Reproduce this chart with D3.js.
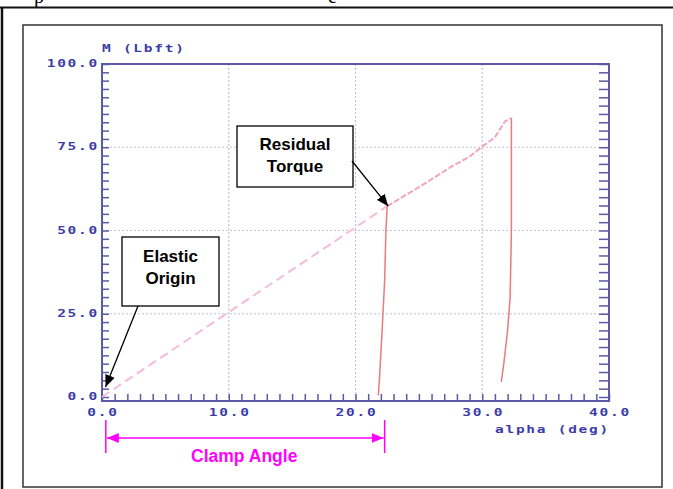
<!DOCTYPE html>
<html><head><meta charset="utf-8">
<script src="https://cdn.jsdelivr.net/npm/d3@7"></script>
<style>
html,body{margin:0;padding:0;background:#fff;}
svg{display:block;}
</style></head>
<body><div id="chart"></div>
<script>
// ---- data ----
const xTickValues = [0, 10, 20, 30, 40];
const yTickValues = [0, 25, 50, 75, 100];
const xTitle = "alpha (deg)";
const yTitle = "M (Lbft)";

const elasticAlpha = [0.0, 22.5];
const elasticM     = [0.0, 57.3];

const plasticAlpha = [22.5, 25.0, 27.5, 29.0, 30.0, 31.0, 31.8, 32.3];
const plasticM     = [57.3, 63.0, 69.0, 72.2, 75.2, 78.0, 82.8, 83.8];

const unload1Alpha = [22.5, 22.4, 22.3, 22.1, 21.9, 21.8];
const unload1M     = [57.3, 50.0, 35.0, 20.0, 6.0, 0.5];

const unload2Alpha = [32.3, 32.3, 32.2, 32.0, 31.7, 31.5];
const unload2M     = [83.8, 50.0, 30.0, 20.0, 10.0, 4.5];

const clampStart = 0.3, clampEnd = 22.3;
const residualPoint = [22.5, 57.3];
const originPoint = [0.2, 3.0];

// ---- drawing ----
const W = 673, H = 489;
const svg = d3.select("#chart").append("svg").attr("width", W).attr("height", H);
const defs = svg.append("defs");
function marker(id, color) {
  defs.append("marker").attr("id", id).attr("viewBox", "0 0 12 10")
    .attr("refX", 12).attr("refY", 5).attr("markerWidth", 12).attr("markerHeight", 10)
    .attr("markerUnits", "userSpaceOnUse").attr("orient", "auto-start-reverse")
    .append("path").attr("d", "M0,0 L12,5 L0,10 Z").attr("fill", color);
}
marker("ab", "#000");
marker("am", "#ff00ff");

// page fragments (text of the page above, cut by the picture's edge)
svg.append("text").attr("x", 34).attr("y", 2.5).attr("font-family", "Liberation Serif").attr("font-size", 20).text("p");
svg.append("text").attr("x", 328).attr("y", 2.5).attr("font-family", "Liberation Serif").attr("font-size", 20).text("e");
// outer frame lines
svg.append("line").attr("x1", 0).attr("x2", W).attr("y1", 7.5).attr("y2", 7.5).attr("stroke", "#111").attr("stroke-width", 2);
svg.append("line").attr("x1", 2).attr("x2", 2).attr("y1", 7).attr("y2", H).attr("stroke", "#111").attr("stroke-width", 2.5);
// inner frame
svg.append("rect").attr("x", 23).attr("y", 25).attr("width", 639).attr("height", 462)
  .attr("fill", "none").attr("stroke", "#333").attr("stroke-width", 1.5);

const x = d3.scaleLinear().domain([0, 40]).range([102, 609]);
const y = d3.scaleLinear().domain([0, 100]).range([397, 64]);
const axisColor = "#5a5aa8";
const labelColor = "#3c3ca8";
const frameBottom = y(0) + 4;

// grid
const gx = xTickValues.slice(1, -1), gy = yTickValues.slice(1, -1);
svg.append("g").selectAll("line").data(gx).join("line")
  .attr("x1", d => x(d)).attr("x2", d => x(d)).attr("y1", y(100)).attr("y2", frameBottom)
  .attr("stroke", "#c4c4d4").attr("stroke-width", 1.2).attr("stroke-dasharray", "2,2");
svg.append("g").selectAll("line").data(gy).join("line")
  .attr("x1", x(0)).attr("x2", x(40)).attr("y1", d => y(d)).attr("y2", d => y(d))
  .attr("stroke", "#c4c4d4").attr("stroke-width", 1.2).attr("stroke-dasharray", "2,2");

// ticks via d3 axes
const yMinor = d3.range(0, 100.01, 2.5);
const xMinor = d3.range(0, 40.01, 1);
const gL = svg.append("g").attr("transform", `translate(${x(0)},0)`)
  .call(d3.axisRight(y).tickValues(yMinor).tickSize(7).tickFormat(""));
const gR = svg.append("g").attr("transform", `translate(${x(40)},0)`)
  .call(d3.axisLeft(y).tickValues(yMinor).tickSize(10).tickFormat(""));
const gB = svg.append("g").attr("transform", `translate(0,${frameBottom})`)
  .call(d3.axisTop(x).tickValues(xMinor).tickSize(7).tickFormat(""));
[gL, gR, gB].forEach(g => {
  g.select(".domain").remove();
  g.selectAll(".tick line").attr("stroke", axisColor).attr("stroke-width", 1.5);
});
// plot frame
svg.append("rect").attr("x", x(0)).attr("y", y(100)).attr("width", x(40) - x(0)).attr("height", frameBottom - y(100))
  .attr("fill", "none").attr("stroke", axisColor).attr("stroke-width", 2);

// labels: wide, bold, pixel-like
function lbl(px, py, txt, anchor) {
  svg.append("g").attr("transform", `translate(${px},${py}) scale(1.45,1)`)
    .append("text").attr("text-anchor", anchor)
    .attr("font-family", "DejaVu Sans Mono").attr("font-weight", "bold").attr("font-size", "10px")
    .attr("letter-spacing", "1.2px").attr("fill", labelColor).text(txt);
}
yTickValues.forEach(d => lbl(x(0) - 3, y(d) + 3, d.toFixed(1), "end"));
xTickValues.forEach(d => lbl(x(d) + 1, frameBottom + 15, d.toFixed(1), "middle"));
lbl(x(0), y(100) - 12, yTitle, "start");
lbl(x(40) + 1, frameBottom + 32, xTitle, "end");

// curves
const line = d3.line().x(d => x(d[0])).y(d => y(d[1]));
const zip = (a, b) => a.map((v, i) => [v, b[i]]);
svg.append("path").datum(zip(elasticAlpha, elasticM)).attr("d", line)
  .attr("fill", "none").attr("stroke", "#f4bcd6").attr("stroke-width", 2).attr("stroke-dasharray", "9,5");
svg.append("path").datum(zip(plasticAlpha, plasticM)).attr("d", line)
  .attr("fill", "none").attr("stroke", "#f0a4c0").attr("stroke-width", 2).attr("stroke-dasharray", "6,2");
svg.append("path").datum(zip(unload1Alpha, unload1M)).attr("d", line)
  .attr("fill", "none").attr("stroke", "#ea7a80").attr("stroke-width", 1.5);
svg.append("path").datum(zip(unload2Alpha, unload2M)).attr("d", line)
  .attr("fill", "none").attr("stroke", "#ea7a80").attr("stroke-width", 1.5);

// annotation boxes
function box(x0, y0, w, h, lines, base, tip, from) {
  svg.append("rect").attr("x", x0).attr("y", y0).attr("width", w).attr("height", h)
    .attr("fill", "#fff").attr("stroke", "#000").attr("stroke-width", 1.3);
  lines.forEach((t, i) => svg.append("text").attr("x", x0 + w / 2).attr("y", base + i * 21.5)
    .attr("text-anchor", "middle").attr("font-family", "Liberation Sans, Arial").attr("font-weight", "bold")
    .attr("font-size", "17px").attr("fill", "#000").text(t));
  svg.append("line").attr("x1", from[0]).attr("y1", from[1]).attr("x2", tip[0]).attr("y2", tip[1])
    .attr("stroke", "#000").attr("stroke-width", 1.3).attr("marker-end", "url(#ab)");
}
box(237, 126, 116, 61, ["Residual", "Torque"], 150, [x(residualPoint[0]) + 1, y(residualPoint[1])], [352, 161]);
box(122, 237, 97, 69, ["Elastic", "Origin"], 262, [x(originPoint[0]) + 1, y(originPoint[1])], [138, 306]);

// clamp angle dimension
const mag = "#ff00ff";
[clampStart, clampEnd].forEach(v => svg.append("line").attr("x1", x(v)).attr("x2", x(v))
  .attr("y1", 420).attr("y2", 453).attr("stroke", mag).attr("stroke-width", 1.5));
svg.append("line").attr("x1", x(clampStart) + 1).attr("x2", x(clampEnd) - 1).attr("y1", 438).attr("y2", 438)
  .attr("stroke", mag).attr("stroke-width", 1.5)
  .attr("marker-start", "url(#am)").attr("marker-end", "url(#am)");
svg.append("text").attr("x", (x(clampStart) + x(clampEnd)) / 2 - 1).attr("y", 462).attr("text-anchor", "middle")
  .attr("font-family", "Liberation Sans, Arial").attr("font-weight", "bold").attr("font-size", "17.5px")
  .attr("fill", mag).text("Clamp Angle");
</script></body></html>
